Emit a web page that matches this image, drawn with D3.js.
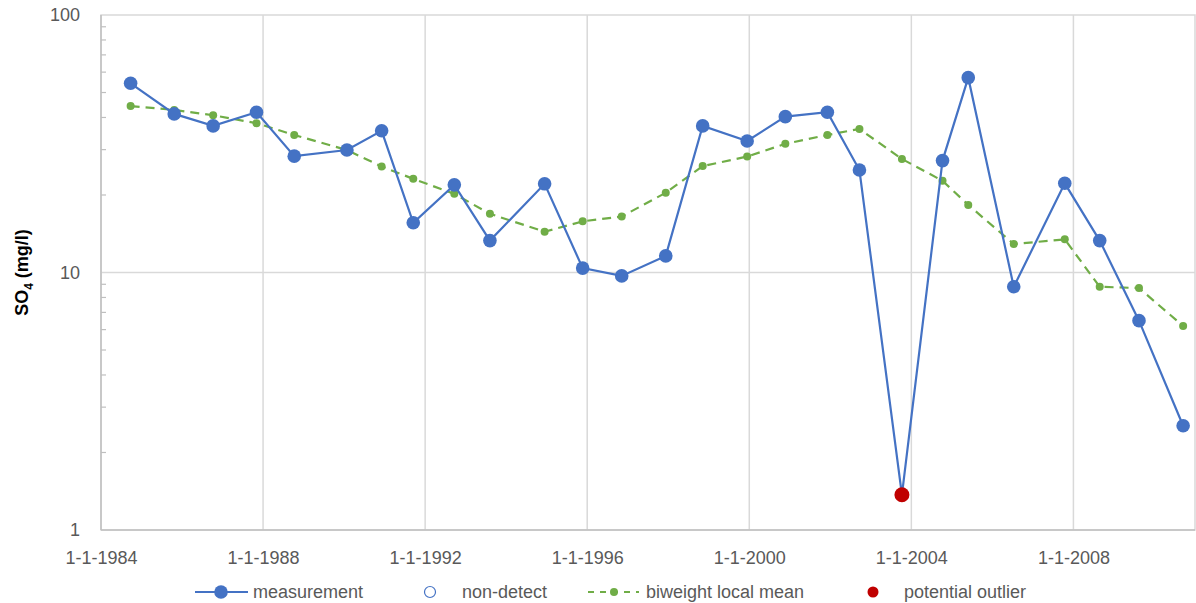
<!DOCTYPE html>
<html>
<head>
<meta charset="utf-8">
<script src="https://cdn.jsdelivr.net/npm/d3@7"></script>
<style>
  html, body { margin: 0; padding: 0; background: #fff; }
  svg { display: block; font-family: "Liberation Sans", Arial, sans-serif; }
</style>
</head>
<body>
<svg id="chart" width="1196" height="603"></svg>
<script>
// Sampling dates
const sampleDates = [
  "1984-09-24", "1985-10-22", "1986-10-08", "1987-11-03", "1988-10-08",
  "1990-01-26", "1990-12-05", "1991-09-16", "1992-09-20", "1993-08-07",
  "1994-12-13", "1995-11-21", "1996-11-07", "1997-12-09", "1998-11-07",
  "1999-12-13", "2000-11-21", "2001-12-05", "2002-09-20", "2003-10-08",
  "2004-10-08", "2005-05-28", "2006-07-12", "2007-10-15", "2008-08-25",
  "2009-08-14", "2010-09-16"
];
// Measured SO4 concentrations (mg/l)
const measurement = [
  54.3, 41.3, 37.1, 41.9, 28.3, 29.9, 35.5, 15.6, 21.9, 13.3,
  22.1, 10.4, 9.7, 11.6, 37.1, 32.4, 40.3, 41.9, 25.0, 1.37,
  27.2, 57.1, 8.8, 22.2, 13.3, 6.5, 2.54
];
// Biweight local mean (mg/l)
const biweightMean = [
  44.3, 42.8, 40.8, 38.0, 34.2, 29.9, 25.8, 23.1, 20.2, 16.9,
  14.4, 15.8, 16.5, 20.4, 25.9, 28.2, 31.6, 34.2, 36.1, 27.6,
  22.7, 18.3, 12.9, 13.45, 8.8, 8.7, 6.2
];
// Indices of measurements flagged as potential outliers
const outlierIndex = [19];
// Non-detect measurements (none in this series)
const nonDetectIndex = [];

const xTickDates = ["1984-01-01", "1988-01-01", "1992-01-01", "1996-01-01", "2000-01-01", "2004-01-01", "2008-01-01"];
const xDomain = ["1984-01-01", "2011-01-01"];
const yTicks = [1, 10, 100];
const legendLabels = ["measurement", "non-detect", "biweight local mean", "potential outlier"];

const BLUE = "#4472C4", GREEN = "#70AD47", RED = "#C00000";
const GRID = "#D9D9D9", TEXT = "#595959";

const parse = d3.timeParse("%Y-%m-%d");
const fmt = d3.timeFormat("%-d-%-m-%Y");

const svg = d3.select("#chart");
const m = { left: 101, right: 1195, top: 15, bottom: 530 };

const x = d3.scaleTime().domain(xDomain.map(parse)).range([m.left, m.right]);
const y = d3.scaleLog().domain([1, 100]).range([m.bottom, m.top]);

const pts = sampleDates.map((d, i) => ({
  date: parse(d), value: measurement[i], mean: biweightMean[i], i
}));

// Vertical gridlines
svg.append("g").selectAll("line")
  .data(xTickDates.map(parse).filter(d => +d > +x.domain()[0]))
  .join("line")
  .attr("x1", d => x(d)).attr("x2", d => x(d))
  .attr("y1", m.top).attr("y2", m.bottom)
  .attr("stroke", GRID).attr("stroke-width", 1.5);

// Horizontal gridlines at decades
svg.append("g").selectAll("line")
  .data(yTicks.slice(1, -1))
  .join("line")
  .attr("x1", m.left).attr("x2", m.right)
  .attr("y1", d => y(d)).attr("y2", d => y(d))
  .attr("stroke", GRID).attr("stroke-width", 1.5);

// Plot frame
svg.append("rect")
  .attr("x", m.left).attr("y", m.top)
  .attr("width", m.right - m.left).attr("height", m.bottom - m.top)
  .attr("fill", "none").attr("stroke", GRID).attr("stroke-width", 1.5);
svg.append("line")
  .attr("x1", m.left).attr("x2", m.right)
  .attr("y1", m.bottom).attr("y2", m.bottom)
  .attr("stroke", "#BFBFBF").attr("stroke-width", 1.5);
svg.append("line")
  .attr("x1", m.left).attr("x2", m.left)
  .attr("y1", m.top).attr("y2", m.bottom)
  .attr("stroke", "#BFBFBF").attr("stroke-width", 1.5);

// Y axis: decade labels plus inner minor ticks
const yAxis = d3.axisLeft(y)
  .tickValues(yTicks)
  .tickFormat(d3.format("d"))
  .tickSize(0)
  .tickPadding(21);
const gy = svg.append("g").attr("transform", `translate(${m.left},0)`).call(yAxis);
gy.select(".domain").remove();
gy.selectAll("text").attr("fill", TEXT).style("font-size", "18px");

const minor = [];
[1, 10].forEach(b => { for (let k = 2; k <= 9; k++) minor.push(b * k); });
svg.append("g").selectAll("line")
  .data(minor)
  .join("line")
  .attr("x1", m.left).attr("x2", m.left + 5)
  .attr("y1", d => y(d)).attr("y2", d => y(d))
  .attr("stroke", "#BFBFBF").attr("stroke-width", 1.2);

// X axis labels
const xAxis = d3.axisBottom(x)
  .tickValues(xTickDates.map(parse))
  .tickFormat(fmt)
  .tickSize(0)
  .tickPadding(21);
const gx = svg.append("g").attr("transform", `translate(0,${m.bottom})`).call(xAxis);
gx.select(".domain").remove();
gx.selectAll("text").attr("fill", TEXT).style("font-size", "18px");

// Y axis title
const title = svg.append("text")
  .attr("transform", `translate(28,${(m.top + m.bottom) / 2}) rotate(-90)`)
  .attr("text-anchor", "middle")
  .attr("font-weight", "bold")
  .attr("font-size", "18px")
  .attr("fill", "#000");
title.append("tspan").text("SO");
title.append("tspan").attr("font-size", "12px").attr("dy", 5).text("4");
title.append("tspan").attr("dy", -5).text(" (mg/l)");

// Biweight local mean: dashed line with small dots
svg.append("path")
  .datum(pts)
  .attr("fill", "none")
  .attr("stroke", GREEN)
  .attr("stroke-width", 2.2)
  .attr("stroke-dasharray", "9,6")
  .attr("d", d3.line().x(d => x(d.date)).y(d => y(d.mean)));
svg.append("g").selectAll("circle")
  .data(pts)
  .join("circle")
  .attr("cx", d => x(d.date)).attr("cy", d => y(d.mean))
  .attr("r", 4).attr("fill", GREEN);

// Measurements: solid line with markers
svg.append("path")
  .datum(pts)
  .attr("fill", "none")
  .attr("stroke", BLUE)
  .attr("stroke-width", 2.2)
  .attr("d", d3.line().x(d => x(d.date)).y(d => y(d.value)));
svg.append("g").selectAll("circle")
  .data(pts.filter(d => !outlierIndex.includes(d.i) && !nonDetectIndex.includes(d.i)))
  .join("circle")
  .attr("cx", d => x(d.date)).attr("cy", d => y(d.value))
  .attr("r", 6.8).attr("fill", BLUE);

// Non-detects (open circles)
svg.append("g").selectAll("circle")
  .data(pts.filter(d => nonDetectIndex.includes(d.i)))
  .join("circle")
  .attr("cx", d => x(d.date)).attr("cy", d => y(d.value))
  .attr("r", 6).attr("fill", "#fff").attr("stroke", BLUE).attr("stroke-width", 1.2);

// Potential outliers
svg.append("g").selectAll("circle")
  .data(pts.filter(d => outlierIndex.includes(d.i)))
  .join("circle")
  .attr("cx", d => x(d.date)).attr("cy", d => y(d.value))
  .attr("r", 7.5).attr("fill", RED);

// Legend
const lg = svg.append("g").attr("transform", "translate(0,592)");
const lgText = (xp, t) => lg.append("text")
  .attr("x", xp).attr("y", 0).attr("dy", "0.35em")
  .attr("fill", TEXT).attr("font-size", "18px").text(t);

lg.append("line").attr("x1", 195).attr("x2", 248).attr("y1", 0).attr("y2", 0)
  .attr("stroke", BLUE).attr("stroke-width", 2.2);
lg.append("circle").attr("cx", 221).attr("cy", 0).attr("r", 6.8).attr("fill", BLUE);
lgText(253, legendLabels[0]);

lg.append("circle").attr("cx", 430).attr("cy", 0).attr("r", 5.5)
  .attr("fill", "#fff").attr("stroke", BLUE).attr("stroke-width", 1.2);
lgText(462, legendLabels[1]);

lg.append("line").attr("x1", 588).attr("x2", 639).attr("y1", 0).attr("y2", 0)
  .attr("stroke", GREEN).attr("stroke-width", 2.2).attr("stroke-dasharray", "6,6");
lg.append("circle").attr("cx", 614).attr("cy", 0).attr("r", 4).attr("fill", GREEN);
lgText(646, legendLabels[2]);

lg.append("circle").attr("cx", 873).attr("cy", 0).attr("r", 5.5).attr("fill", RED);
lgText(904, legendLabels[3]);
</script>
</body>
</html>
